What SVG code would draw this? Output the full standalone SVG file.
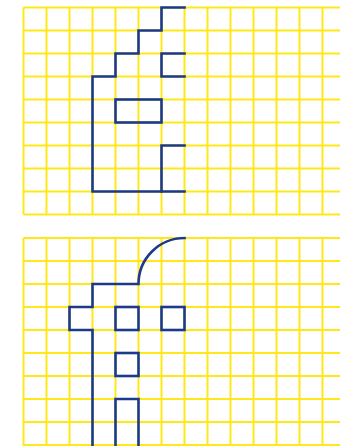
<svg xmlns="http://www.w3.org/2000/svg" width="340" height="446" viewBox="0 0 340 446">
<style>
.grid{stroke:#FFE81A;stroke-width:2;fill:none}
.shape{stroke:#1B3A8C;stroke-width:2.6;fill:none;stroke-linejoin:miter;stroke-linecap:square}
</style>
<rect width="340" height="446" fill="#ffffff"/>
<g id="grid-top" class="grid">
<path d="M23.5 7.5V214.5M46.5 7.5V214.5M69.5 7.5V214.5M92.5 7.5V214.5M115.5 7.5V214.5M138.5 7.5V214.5M161.5 7.5V214.5M184.5 7.5V214.5M207.5 7.5V214.5M230.5 7.5V214.5M253.5 7.5V214.5M276.5 7.5V214.5M299.5 7.5V214.5M322.5 7.5V214.5"/>
<path d="M23.5 7.5H340M23.5 30.5H340M23.5 53.5H340M23.5 76.5H340M23.5 99.5H340M23.5 122.5H340M23.5 145.5H340M23.5 168.5H340M23.5 191.5H340M23.5 214.5H340"/>
</g>
<g id="grid-bottom" class="grid">
<path d="M23.5 238V446M46.5 238V446M69.5 238V446M92.5 238V446M115.5 238V446M138.5 238V446M161.5 238V446M184.5 238V446M207.5 238V446M230.5 238V446M253.5 238V446M276.5 238V446M299.5 238V446M322.5 238V446"/>
<path d="M23.5 238H340M23.5 261H340M23.5 284H340M23.5 307H340M23.5 330H340M23.5 353H340M23.5 376H340M23.5 399H340M23.5 422H340M23.5 445H340"/>
</g>
<g id="figure-top" class="shape">
<path d="M184.5 7.5H161.5V30.5H138.5V53.5H115.5V76.5H92.5V191.5H184.5"/>
<path d="M184.5 145.5H161.5V191.5"/>
<path d="M184.5 53.5H161.5V76.5H184.5"/>
<rect x="115.5" y="99.5" width="46" height="23"/>
</g>
<g id="figure-bottom" class="shape">
<path d="M184.5 238A46 46 0 0 0 138.5 284H92.5V307H69.5V330H92.5V447"/>
<rect x="115.5" y="307" width="23" height="23"/>
<rect x="161.5" y="307" width="23" height="23"/>
<rect x="115.5" y="353" width="23" height="23"/>
<path d="M115.5 447V399H138.5V447"/>
</g>
</svg>
